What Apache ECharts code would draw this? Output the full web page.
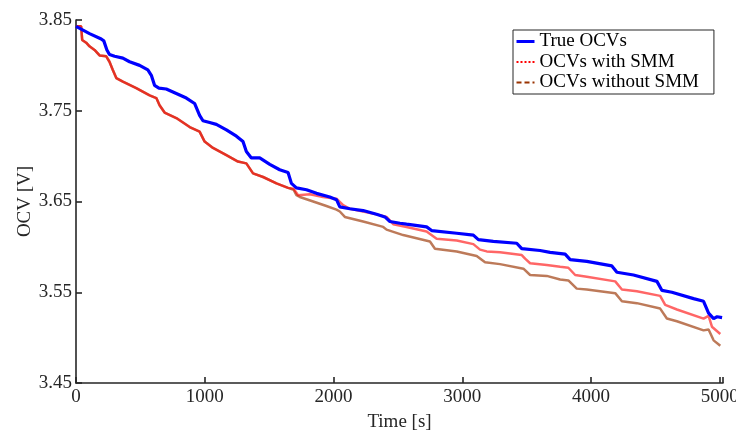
<!DOCTYPE html>
<html>
<head>
<meta charset="utf-8">
<script src="https://cdn.jsdelivr.net/npm/echarts@6/dist/echarts.min.js"></script>
<style>html,body{margin:0;padding:0;background:#fff}#c{width:736px;height:431px}</style>
</head>
<body>
<div id="c"></div>
<script>
// Data: [time (s), OCV (V)]
const trueOCV = [
 [0,3.843],[105,3.835],[196,3.829],[216,3.827],[240,3.817],[260,3.812],[300,3.810],[364,3.808],
 [416,3.804],[494,3.800],[558,3.795],[585,3.789],[610,3.778],[644,3.775],[701,3.774],[779,3.769],
 [857,3.764],[921,3.758],[960,3.745],[986,3.739],[1038,3.737],[1090,3.735],[1168,3.729],[1246,3.722],
 [1297,3.716],[1323,3.705],[1362,3.698],[1427,3.698],[1505,3.691],[1582,3.685],[1647,3.682],
 [1673,3.670],[1712,3.665],[1790,3.663],[1868,3.659],[1971,3.655],[2023,3.652],[2049,3.644],
 [2127,3.642],[2230,3.640],[2334,3.636],[2399,3.633],[2438,3.628],[2516,3.626],[2567,3.625],
 [2723,3.622],[2762,3.618],[2957,3.615],[3086,3.613],[3125,3.608],[3241,3.606],[3423,3.604],
 [3462,3.598],[3604,3.596],[3682,3.594],[3799,3.592],[3838,3.586],[3967,3.584],[4162,3.579],
 [4201,3.572],[4330,3.569],[4512,3.562],[4551,3.552],[4628,3.550],[4796,3.543],[4874,3.540],
 [4913,3.527],[4952,3.521],[4979,3.523],[5018,3.522]
];
const withSMM = [
 [0,3.843],[40,3.843],[48,3.828],[79,3.825],[105,3.821],[144,3.817],[183,3.811],[235,3.810],
 [260,3.804],[286,3.795],[313,3.786],[364,3.782],[468,3.775],[572,3.767],[624,3.764],[649,3.756],
 [688,3.748],[779,3.742],[883,3.732],[960,3.727],[999,3.716],[1064,3.709],[1168,3.701],[1258,3.694],
 [1323,3.692],[1375,3.681],[1453,3.677],[1557,3.670],[1647,3.665],[1690,3.664],[1725,3.657],
 [1816,3.658],[1919,3.655],[2023,3.653],[2075,3.646],[2127,3.642],[2230,3.639],[2360,3.635],
 [2412,3.633],[2464,3.625],[2567,3.622],[2723,3.617],[2801,3.609],[2957,3.607],[3086,3.603],
 [3138,3.597],[3190,3.595],[3293,3.594],[3462,3.591],[3488,3.587],[3527,3.582],[3656,3.580],
 [3760,3.578],[3824,3.577],[3877,3.569],[3967,3.567],[4188,3.562],[4240,3.553],[4356,3.551],
 [4537,3.546],[4576,3.536],[4667,3.531],[4874,3.521],[4913,3.524],[4939,3.512],[5004,3.504]
];
const withoutSMM = [
 [0,3.843],[40,3.843],[48,3.828],[79,3.825],[105,3.821],[144,3.817],[183,3.811],[235,3.810],
 [260,3.804],[286,3.795],[313,3.786],[364,3.782],[468,3.775],[572,3.767],[624,3.764],[649,3.756],
 [688,3.748],[779,3.742],[883,3.732],[960,3.727],[999,3.716],[1064,3.709],[1168,3.701],[1258,3.694],
 [1323,3.692],[1375,3.681],[1453,3.677],[1557,3.670],[1647,3.665],[1690,3.663],[1712,3.657],
 [1738,3.655],[1842,3.650],[1945,3.645],[2023,3.641],[2049,3.639],[2088,3.633],[2230,3.628],
 [2386,3.622],[2412,3.619],[2541,3.613],[2749,3.606],[2788,3.598],[2957,3.595],[3112,3.590],
 [3177,3.583],[3293,3.581],[3475,3.576],[3527,3.569],[3656,3.568],[3760,3.564],[3824,3.563],
 [3889,3.554],[3967,3.553],[4188,3.549],[4240,3.540],[4356,3.538],[4537,3.532],[4589,3.521],
 [4667,3.518],[4874,3.508],[4913,3.509],[4952,3.497],[5004,3.491]
];
const seriesNames = ['True OCVs', 'OCVs with SMM', 'OCVs without SMM'];
const xTicks = [0, 1000, 2000, 3000, 4000, 5000];
const yTicks = [3.45, 3.55, 3.65, 3.75, 3.85];

const FONT = '"Liberation Serif", serif';
const AX = '#262626';
const chart = echarts.init(document.getElementById('c'), null, {renderer: 'canvas'});
chart.setOption({
  animation: false,
  backgroundColor: '#fff',
  grid: {left: 76, right: 13, top: 20, bottom: 48, containLabel: false, outerBoundsMode: 'none'},
  xAxis: {
    type: 'value', min: xTicks[0], max: 5025, interval: 1000,
    name: 'Time [s]', nameLocation: 'middle', nameGap: 30, nameMoveOverlap: false,
    nameTextStyle: {fontFamily: FONT, fontSize: 19, color: AX},
    axisLine: {show: true, onZero: false, lineStyle: {color: AX, width: 1.6}},
    axisTick: {show: true, inside: true, length: 6, lineStyle: {color: AX, width: 1.6}},
    axisLabel: {fontFamily: FONT, fontSize: 19, color: AX, margin: 5,
      formatter: v => xTicks.indexOf(v) >= 0 ? String(v) : ''},
    splitLine: {show: false}
  },
  yAxis: {
    type: 'value', min: yTicks[0], max: yTicks[yTicks.length - 1], interval: 0.1,
    name: 'OCV [V]', nameLocation: 'middle', nameGap: 41, nameRotate: 90, nameMoveOverlap: false,
    nameTextStyle: {fontFamily: FONT, fontSize: 19, color: AX},
    axisLine: {show: true, onZero: false, lineStyle: {color: AX, width: 1.6}},
    axisTick: {show: true, inside: true, length: 6, lineStyle: {color: AX, width: 1.6}},
    axisLabel: {fontFamily: FONT, fontSize: 19, color: AX, margin: 4,
      formatter: v => v.toFixed(2)},
    splitLine: {show: false}
  },
  legend: {
    orient: 'vertical', left: 513, top: 30,
    padding: [2, 15, 2, 2], itemGap: 1.5, itemWidth: 18, itemHeight: 14,
    borderColor: AX, borderWidth: 1, backgroundColor: '#fff',
    textStyle: {fontFamily: FONT, fontSize: 19, color: '#000', lineHeight: 19},
    data: [
      {name: seriesNames[0], itemStyle: {opacity: 0}, lineStyle: {color: '#0000ff', width: 3, type: 'solid', opacity: 1}},
      {name: seriesNames[1], itemStyle: {opacity: 0}, lineStyle: {color: '#ff0000', width: 2, type: [2, 2], opacity: 1}},
      {name: seriesNames[2], itemStyle: {opacity: 0}, lineStyle: {color: '#993300', width: 2, type: [5, 3], opacity: 1}}
    ]
  },
  series: [
    {name: seriesNames[2], type: 'line', data: withoutSMM, showSymbol: false, symbol: 'none',
     lineStyle: {color: '#993300', width: 2.5, opacity: 0.65}, itemStyle: {color: '#993300'}, z: 2},
    {name: seriesNames[1], type: 'line', data: withSMM, showSymbol: false, symbol: 'none',
     lineStyle: {color: '#ff0000', width: 2.5, opacity: 0.6}, itemStyle: {color: '#ff0000'}, z: 3},
    {name: seriesNames[0], type: 'line', data: trueOCV, showSymbol: false, symbol: 'none',
     lineStyle: {color: '#0000ff', width: 3.2}, itemStyle: {color: '#0000ff'}, z: 4}
  ]
});
</script>
</body>
</html>
